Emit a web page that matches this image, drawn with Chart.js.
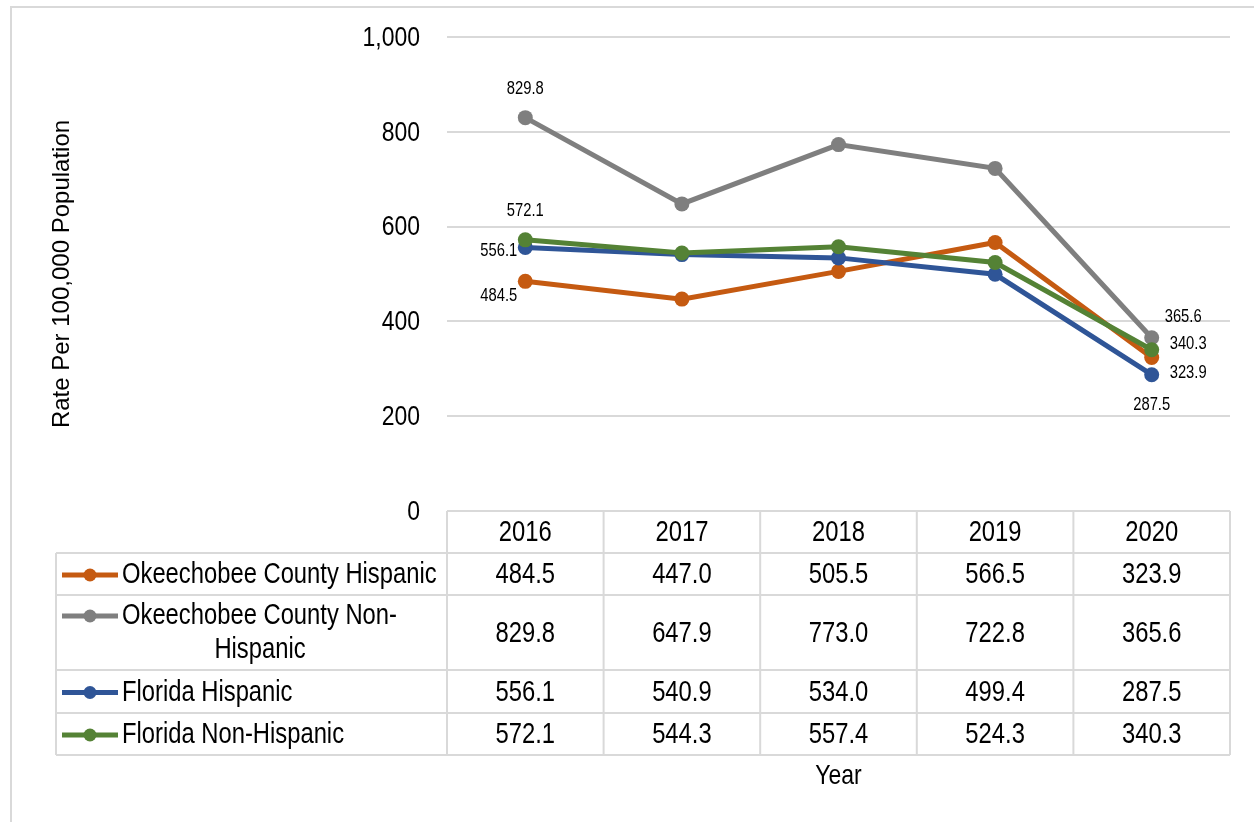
<!DOCTYPE html>
<html><head><meta charset="utf-8">
<script src="https://cdn.jsdelivr.net/npm/chart.js@4.4.1/dist/chart.umd.min.js"></script>
<style>html,body{margin:0;padding:0;background:#fff;}canvas{display:block;}</style>
</head><body>
<canvas id="c" width="1254" height="822"></canvas>
<script>
// ---- data ----
const years = ['2016', '2017', '2018', '2019', '2020'];
const seriesNames = ['Okeechobee County Hispanic', 'Okeechobee County Non-Hispanic', 'Florida Hispanic', 'Florida Non-Hispanic'];
const okeeHispanic = [484.5, 447.0, 505.5, 566.5, 323.9];
const okeeNonHispanic = [829.8, 647.9, 773.0, 722.8, 365.6];
const flHispanic = [556.1, 540.9, 534.0, 499.4, 287.5];
const flNonHispanic = [572.1, 544.3, 557.4, 524.3, 340.3];
const yTicks = [0, 200, 400, 600, 800, 1000];
const yTitle = 'Rate Per 100,000 Population';
const xTitle = 'Year';

// ---- styles ----
const colors = ['#C55A11', '#7F7F7F', '#2F5597', '#548235'];
const FONT = "'Liberation Sans', Arial, sans-serif";
const SQ = 0.82; // horizontal condensing (Arial Narrow look)
const GRID = '#d9d9d9';
const allSeries = [okeeHispanic, okeeNonHispanic, flHispanic, flNonHispanic];

// label placement for first / last point of each series: [dx, dy, align]
const labelSpots = [
  { first: [-8, 15, 'right'], last: [18, 16, 'left'] },
  { first: [0, -29, 'center'], last: [13, -21, 'left'] },
  { first: [-8, 4, 'right'], last: [0, 30, 'center'] },
  { first: [0, -29, 'center'], last: [18, -6, 'left'] }
];

const tableRowHeights = [42, 42, 75, 43, 42];
const tableLeft = 56;

const fmt = v => v.toFixed(1);

// draw horizontally condensed text
function narrowText(ctx, text, x, y, size, align) {
  ctx.save();
  ctx.font = size + 'px ' + FONT;
  ctx.textBaseline = 'middle';
  ctx.textAlign = align || 'center';
  ctx.translate(x, y);
  ctx.scale(SQ, 1);
  ctx.fillText(text, 0, 0);
  ctx.restore();
}

const framePlugin = {
  id: 'frame',
  beforeDraw(chart) {
    const ctx = chart.ctx;
    ctx.save();
    ctx.fillStyle = '#fff';
    ctx.fillRect(0, 0, chart.width, chart.height);
    ctx.strokeStyle = GRID;
    ctx.lineWidth = 2;
    ctx.strokeRect(11, 7, chart.width + 20, chart.height + 20);
    ctx.restore();
  }
};

const labelPlugin = {
  id: 'pointLabels',
  afterDatasetsDraw(chart) {
    const ctx = chart.ctx;
    ctx.fillStyle = '#000';
    allSeries.forEach((arr, i) => {
      const meta = chart.getDatasetMeta(i);
      const n = arr.length;
      [['first', 0], ['last', n - 1]].forEach(([k, idx]) => {
        const pt = meta.data[idx];
        const [dx, dy, al] = labelSpots[i][k];
        narrowText(ctx, fmt(arr[idx]), pt.x + dx, pt.y + dy, 18, al);
      });
    });
  }
};

const tablePlugin = {
  id: 'dataTable',
  afterDraw(chart) {
    const ctx = chart.ctx;
    const ca = chart.chartArea;
    const xs = chart.scales.x;
    const ys = chart.scales.y;
    const band = (ca.right - ca.left) / years.length;
    const top = ca.bottom;
    const rowsY = [top];
    tableRowHeights.forEach(h => rowsY.push(rowsY[rowsY.length - 1] + h));
    const bottom = rowsY[rowsY.length - 1];
    ctx.save();
    ctx.fillStyle = '#000';
    // y tick labels
    ys.ticks.forEach(t => {
      narrowText(ctx, t.value.toLocaleString('en-US'), ca.left - 27, ys.getPixelForValue(t.value) + 1, 28, 'right');
    });

    ctx.strokeStyle = GRID;
    ctx.lineWidth = 2;
    ctx.beginPath();
    ctx.moveTo(ca.left, top); ctx.lineTo(ca.right, top);
    for (let r = 1; r < rowsY.length; r++) {
      ctx.moveTo(tableLeft, rowsY[r]); ctx.lineTo(ca.right, rowsY[r]);
    }
    ctx.moveTo(tableLeft, rowsY[1]); ctx.lineTo(tableLeft, bottom);
    for (let c = 0; c <= years.length; c++) {
      const x = ca.left + c * band;
      ctx.moveTo(x, top); ctx.lineTo(x, bottom);
    }
    ctx.stroke();

    ctx.fillStyle = '#000';
    years.forEach((y, i) => {
      narrowText(ctx, y, xs.getPixelForValue(i), (rowsY[0] + rowsY[1]) / 2 + 1, 29, 'center');
    });
    allSeries.forEach((arr, r) => {
      const cy = (rowsY[r + 1] + rowsY[r + 2]) / 2 + 1;
      arr.forEach((v, i) => {
        narrowText(ctx, fmt(v), xs.getPixelForValue(i), cy, 29, 'center');
      });
    });
    // legend keys + names
    seriesNames.forEach((name, r) => {
      let cy = (rowsY[r + 1] + rowsY[r + 2]) / 2 + 1;
      const lines = name === 'Okeechobee County Non-Hispanic' ? ['Okeechobee County Non-', 'Hispanic'] : [name];
      if (lines.length > 1) cy = rowsY[r + 1] + 21;
      ctx.strokeStyle = colors[r];
      ctx.lineWidth = 5;
      ctx.beginPath();
      ctx.moveTo(62, cy); ctx.lineTo(118, cy);
      ctx.stroke();
      ctx.fillStyle = colors[r];
      ctx.beginPath();
      ctx.arc(90, cy, 6.5, 0, Math.PI * 2);
      ctx.fill();
      ctx.fillStyle = '#000';
      narrowText(ctx, lines[0], 122, cy, 29, 'left');
      if (lines.length > 1) narrowText(ctx, lines[1], 260, cy + 34, 29, 'center');
    });
    // axis titles
    narrowText(ctx, xTitle, (ca.left + ca.right) / 2, 776, 28, 'center');
    ctx.save();
    ctx.translate(62, (ca.top + ca.bottom) / 2);
    ctx.rotate(-Math.PI / 2);
    ctx.font = '24px ' + FONT;
    ctx.textAlign = 'center';
    ctx.textBaseline = 'middle';
    ctx.fillText(yTitle, 0, 0);
    ctx.restore();
    ctx.restore();
  }
};

const datasets = allSeries.map((arr, i) => ({
  label: seriesNames[i],
  data: arr,
  borderColor: colors[i],
  backgroundColor: colors[i],
  pointBackgroundColor: colors[i],
  pointBorderColor: colors[i],
  pointBorderWidth: 0,
  pointRadius: 7.5,
  borderWidth: 5,
  tension: 0,
  clip: false,
  order: 4 - i
}));

new Chart(document.getElementById('c'), {
  type: 'line',
  data: { labels: years, datasets },
  options: {
    responsive: false,
    animation: false,
    devicePixelRatio: 1,
    layout: { padding: { left: 0, top: 37, right: 24, bottom: 0 } },
    plugins: { legend: { display: false }, tooltip: { enabled: false } },
    scales: {
      x: {
        type: 'category', offset: true,
        grid: { display: false }, border: { display: false },
        ticks: { display: false },
        afterFit(s) { s.height = 311; }
      },
      y: {
        min: 0, max: 1000,
        afterBuildTicks(s) { s.ticks = yTicks.map(v => ({ value: v })); },
        ticks: { display: false },
        grid: { color: GRID, lineWidth: 2, drawTicks: false },
        border: { display: false },
        afterFit(s) { s.width = 447; }
      }
    }
  },
  plugins: [framePlugin, labelPlugin, tablePlugin]
});
</script>
</body></html>
